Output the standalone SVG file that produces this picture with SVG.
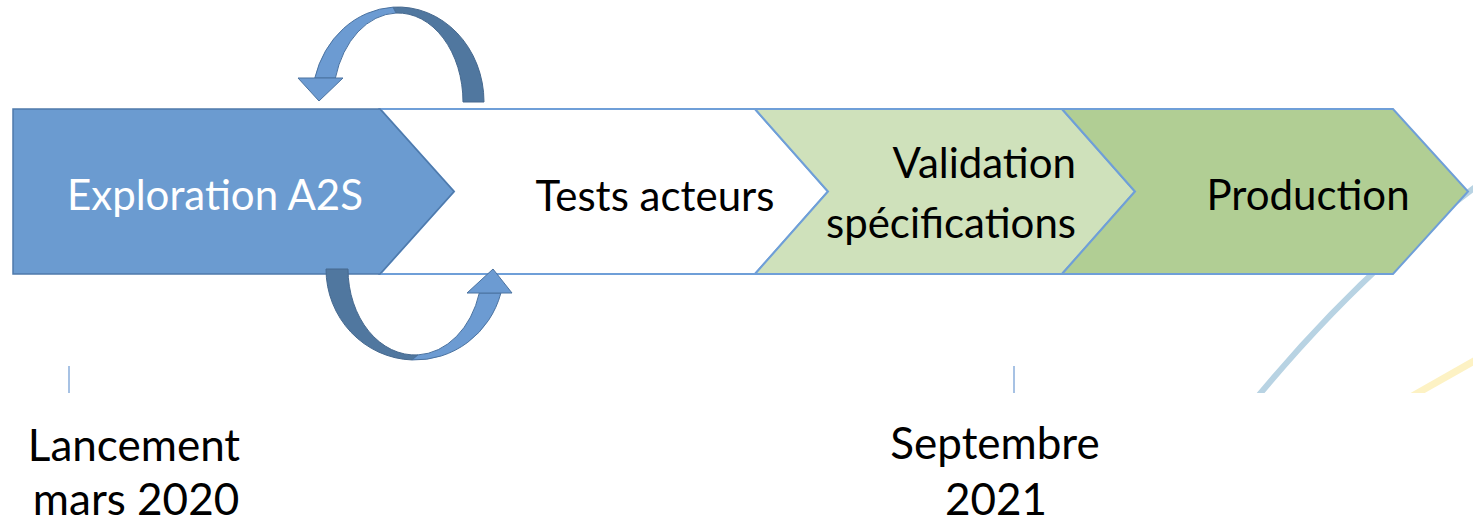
<svg xmlns="http://www.w3.org/2000/svg" width="1473" height="525" viewBox="0 0 1473 525">
  <style>
    .lbl { font-family: Lato, "Open Sans", "Liberation Sans", sans-serif; font-size: 42px; fill: #000; }
    .date { font-family: Lato, "Open Sans", "Liberation Sans", sans-serif; font-size: 44px; fill: #000; text-anchor: middle; }
    .chev { stroke: #6f9fd8; stroke-width: 2; stroke-linejoin: miter; }
    .arrLight { fill: #6c9bd2; stroke: #4a72a0; stroke-width: 1; }
    .arrDark { fill: #50779f; stroke: #46698f; stroke-width: 1; }
    .tick { stroke: #8aaedb; stroke-width: 1.5; }
  </style>
  <defs>
    <clipPath id="bgClip"><rect x="0" y="0" width="1473" height="393"/></clipPath>
  </defs>
  <rect width="1473" height="525" fill="#ffffff"/>

  <g id="background" clip-path="url(#bgClip)">
    <path d="M1485,180 Q1360,270 1245,412" fill="none" stroke="#b8d3e3" stroke-width="6"/>
    <path d="M1400,403 L1490,352" fill="none" stroke="#fdf2c4" stroke-width="7"/>
  </g>

  <g id="node-tests">
    <path class="chev" d="M380,109 L755,109 L828,191.5 L755,274 L380,274 L454,191.5 Z" fill="#ffffff"/>
    <text class="lbl" x="655" y="211" text-anchor="middle">Tests acteurs</text>
  </g>
  <g id="node-validation">
    <path class="chev" d="M755,109 L1062,109 L1135,191.5 L1062,274 L755,274 L828,191.5 Z" fill="#cfe1bb"/>
    <text class="lbl" x="1076" y="178" text-anchor="end">Validation</text>
    <text class="lbl" x="1076" y="238" text-anchor="end">spécifications</text>
  </g>
  <g id="node-production">
    <path class="chev" d="M1062,109 L1393,109 L1468,191.5 L1393,274 L1062,274 L1135,191.5 Z" fill="#b1ce94"/>
    <text class="lbl" x="1308" y="210" text-anchor="middle">Production</text>
  </g>
  <g id="node-exploration">
    <path d="M13,109 L380,109 L454,191.5 L380,274 L13,274 Z" fill="#6b9bd0" stroke="#4f7aab" stroke-width="1.5"/>
    <text class="lbl" x="215" y="210" text-anchor="middle" style="fill:#ffffff">Exploration A2S</text>
  </g>

  <g id="connectors">
    <g id="loop-top">
      <path class="arrDark" d="M393,7.16 A86,95 0 0 1 484,102 L463,102 A65,89 0 0 0 396,13.04 Z"/>
      <path class="arrLight" d="M314.8,78 A86,95 0 0 1 393,7.16 L396,13.04 A65,89 0 0 0 335.4,78 Z"/>
      <path class="arrLight" d="M298,78 L343,78 L319,101 Z"/>
    </g>
    <g id="loop-bottom">
      <path class="arrDark" d="M326,269 A89,91 0 0 0 412,359.95 L418,354.9 A67,86 0 0 1 348,269 Z"/>
      <path class="arrLight" d="M412,359.95 A89,91 0 0 0 500.9,293 L479.3,293 A67,86 0 0 1 418,354.9 Z"/>
      <path class="arrLight" d="M467,293 L512,293 L493,269 Z"/>
    </g>
  </g>

  <g id="milestone-launch">
    <line class="tick" x1="69" y1="366" x2="69" y2="393"/>
    <text class="date" x="134" y="461">Lancement</text>
    <text class="date" x="136" y="515">mars 2020</text>
  </g>
  <g id="milestone-september">
    <line class="tick" x1="1014" y1="366" x2="1014" y2="393"/>
    <text class="date" x="995" y="459">Septembre</text>
    <text class="date" x="996" y="515">2021</text>
  </g>
</svg>
